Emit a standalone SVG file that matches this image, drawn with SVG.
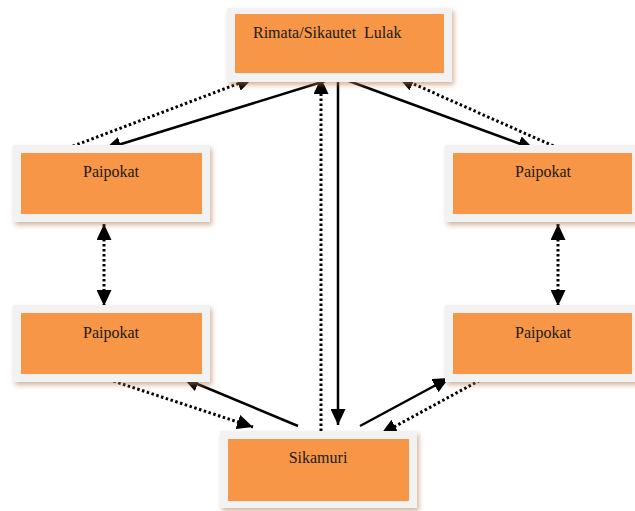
<svg xmlns="http://www.w3.org/2000/svg" width="635" height="511" viewBox="0 0 635 511">
<defs>
<filter id="sh" x="-10%" y="-20%" width="125%" height="150%">
<feDropShadow dx="2" dy="3" stdDeviation="2.5" flood-color="#b07a50" flood-opacity="0.55"/>
</filter>
<marker id="ah" markerUnits="userSpaceOnUse" markerWidth="17" markerHeight="15" refX="16" refY="7.5" orient="auto">
<path d="M0,0 L16,7.5 L0,15 z" fill="#000"/>
</marker>
<marker id="ahs" markerUnits="userSpaceOnUse" markerWidth="17" markerHeight="15" refX="0" refY="7.5" orient="auto">
<path d="M16,0 L0,7.5 L16,15 z" fill="#000"/>
</marker>
</defs>
<style>
.frame{fill:#f2f2f2;filter:url(#sh)}
.box{fill:#f79646}
.t{font-family:"Liberation Serif","DejaVu Serif",serif;font-size:16px;fill:#1a1a1a;white-space:pre}
.solid{stroke:#000;stroke-width:2.5;fill:none;marker-end:url(#ah)}
.dot{stroke:#000;stroke-width:3;stroke-dasharray:2.5 2.5;fill:none;marker-end:url(#ah)}
.dot2{stroke:#000;stroke-width:3;stroke-dasharray:2.5 2.5;fill:none;marker-end:url(#ah);marker-start:url(#ahs)}
</style>
<g id="connectors">
<line class="dot" x1="68" y1="148" x2="253" y2="78"/>
<line class="solid" x1="338" y1="77" x2="105" y2="149"/>
<line class="dot" x1="321" y1="436" x2="321" y2="78"/>
<line class="solid" x1="338" y1="77" x2="338" y2="425"/>
<line class="solid" x1="338" y1="77" x2="534" y2="149"/>
<line class="dot" x1="558" y1="148" x2="398" y2="77"/>
<line class="dot2" x1="104" y1="224" x2="104" y2="306"/>
<line class="dot2" x1="558" y1="224" x2="558" y2="306"/>
<line class="dot" x1="104" y1="378" x2="253" y2="427"/>
<line class="solid" x1="298" y1="426" x2="183" y2="378"/>
<line class="solid" x1="360" y1="426" x2="449" y2="378"/>
<line class="dot" x1="484" y1="378" x2="381" y2="434"/>
</g>
<g id="top">
<rect class="frame" x="227" y="8" width="225" height="74"/>
<rect class="box" x="235" y="14" width="209" height="59"/>
<text class="t" x="253" y="38" xml:space="preserve">Rimata/Sikautet  Lulak</text>
</g>
<g id="left1">
<rect class="frame" x="13" y="145" width="197" height="77"/>
<rect class="box" x="21" y="153" width="181" height="61"/>
<text class="t" x="111" y="177" text-anchor="middle">Paipokat</text>
</g>
<g id="right1">
<rect class="frame" x="445" y="145" width="195" height="77"/>
<rect class="box" x="453" y="153" width="179" height="61"/>
<text class="t" x="543" y="177" text-anchor="middle">Paipokat</text>
</g>
<g id="left2">
<rect class="frame" x="13" y="305" width="197" height="77"/>
<rect class="box" x="21" y="313" width="181" height="61"/>
<text class="t" x="111" y="338" text-anchor="middle">Paipokat</text>
</g>
<g id="right2">
<rect class="frame" x="445" y="305" width="195" height="77"/>
<rect class="box" x="453" y="313" width="179" height="61"/>
<text class="t" x="543" y="338" text-anchor="middle">Paipokat</text>
</g>
<g id="sikamuri">
<rect class="frame" x="220" y="431" width="197" height="77"/>
<rect class="box" x="228" y="439" width="181" height="62"/>
<text class="t" x="318" y="463" text-anchor="middle">Sikamuri</text>
</g>
</svg>
